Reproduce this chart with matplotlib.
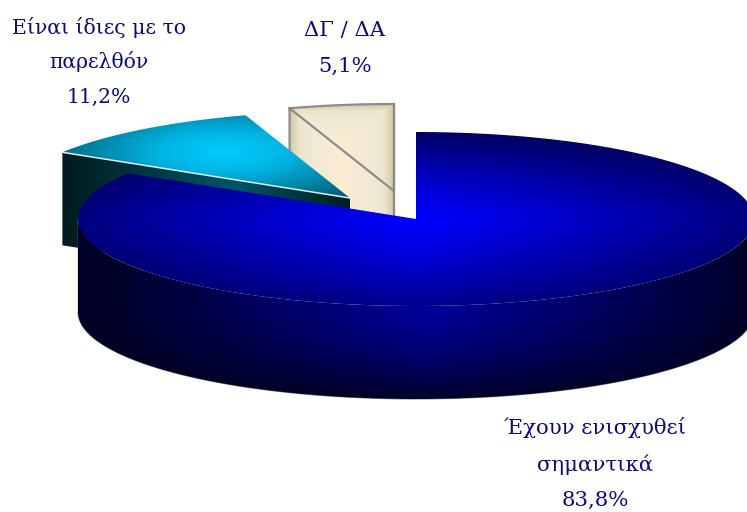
import numpy as np
import matplotlib
matplotlib.use("Agg")
import matplotlib.pyplot as plt
from matplotlib.patches import Polygon

categories = ["Έχουν ενισχυθεί\nσημαντικά", "Είναι ίδιες με το\nπαρελθόν", "ΔΓ / ΔΑ"]
values = [83.8, 11.2, 5.1]
value_labels = ["83,8%", "11,2%", "5,1%"]

W, H = 747, 512
CX, CY, RX, RY, DEPTH = 416, 219, 338, 87, 93
OFFSETS = [(0, 0), (-66, -21), (-22, -28)]
TEXT = "#0b0b80"
EDGE = "#8c8c8c"

fig = plt.figure(figsize=(W / 100, H / 100), dpi=100)
ax = fig.add_axes([0, 0, 1, 1])
ax.set_xlim(0, W)
ax.set_ylim(H, 0)
ax.axis("off")

yy, xx = np.mgrid[0:H, 0:W] + 0.5


def rim(a0, a1, off=(0, 0), n=160):
    t = np.radians(np.linspace(a0, a1, n))
    return np.c_[CX + off[0] + RX * np.sin(t), CY + off[1] - RY * np.cos(t)]


def lerp(stops, s):
    s = np.clip(s, 0, 1)
    pos = [p for p, _ in stops]
    return np.dstack([np.interp(s, pos, [c[i] for _, c in stops]) for i in range(3)]) / 255


def blues(b):
    return np.dstack([np.zeros_like(b), np.zeros_like(b), np.clip(b, 0, 255) / 255])


def fill(pts, rgb, z):
    clip = Polygon(pts, closed=True, transform=ax.transData, fc="none", ec="none")
    ax.add_patch(clip)
    im = ax.imshow(rgb, extent=(0, W, H, 0), aspect="auto", zorder=z, interpolation="bilinear")
    im.set_clip_path(clip)


sweeps = np.array(values) / 100 * 360
a1 = np.minimum(np.cumsum(sweeps), 360)
a0 = np.r_[0, a1[:-1]]

# small slice: inner wall seen as cream box with grey outline
off = OFFSETS[2]
r = rim(a0[2], a1[2], off)
apex = np.array([CX + off[0], CY + off[1]])
box = np.vstack([r, apex + [0, DEPTH], r[0] + [0, DEPTH]])
d = np.minimum.reduce([np.abs(xx - r[0, 0]), np.abs(xx - r[-1, 0]), np.abs(yy - r[-1, 1]) * 1.3])
fill(box, lerp([(0, (212, 198, 162)), (0.2, (236, 228, 205)), (0.45, (241, 233, 212)),
                (1, (251, 236, 212))], d / 48), 1)
ax.plot(*np.vstack([r, apex, r[0], r[0] + [0, DEPTH], apex + [0, DEPTH], apex, r[-1]]).T,
        color=EDGE, lw=1.6, zorder=1.5, solid_joinstyle="round")

# middle slice
off = OFFSETS[1]
r = rim(a0[1], a1[1], off)
apex = np.array([CX + off[0], CY + off[1]])
wall = np.array([r[0], apex, apex + [0, DEPTH], r[0] + [0, DEPTH]])
s = np.where(xx < 235, np.abs(xx - 235) / 170, np.abs(xx - 235) / 115)
fill(wall, lerp([(0, (0, 85, 105)), (1, (0, 28, 30))], s), 2)
top = np.vstack([r, apex])
s = np.hypot((xx - 225) / 190, (yy - 152) / 60)
fill(top, lerp([(0, (0, 205, 255)), (0.35, (0, 180, 225)), (1, (0, 88, 112))], s), 3)
ax.plot(*np.array([r[0], apex]).T, color="#d8eef2", lw=1.1, zorder=3.5)

# main slice
r = rim(a0[0], a1[0])
apex = np.array([CX, CY])
front = rim(90, 270)
wall = np.vstack([front, front[::-1] + [0, DEPTH]])
fx = 1 - 0.8 * np.clip(np.abs(xx - 430) / 320, 0, 1)
fy = 1 - 0.78 * np.clip((yy - 300) / 98, 0, 1) ** 1.5
fill(wall, blues(150 * fx * fy + 10), 4)
ax.plot(*(front + [0, DEPTH]).T, color=EDGE, lw=0.8, zorder=3.9)
ax.plot([front[-1, 0]] * 2, [front[-1, 1], front[-1, 1] + DEPTH], color=EDGE, lw=1.0, zorder=3.9)
top = np.vstack([r, apex])
dx = np.abs(xx - CX) / RX
dy = (yy - CY) / RY
fy = np.where(dy < 0, 1 - 0.6 * np.abs(dy) ** 1.3, 1 - 0.45 * np.abs(dy) ** 1.3)
fill(top, blues(255 * (1 - 0.5 * dx ** 1.1) * fy), 5)

# labels
style = dict(color=TEXT, ha="center", va="center", family="DejaVu Serif", zorder=6)
label_x = [595, 99, 345]
label_y = [[427, 465, 500], [27, 61, 97], [30, 66]]
label_size = [15.3, 14.7, 15.2]
for c, v, x, ys, fs in zip(categories, value_labels, label_x, label_y, label_size):
    for line, y in zip(c.split("\n") + [v], ys):
        ax.text(x, y, line, fontsize=fs, **style)

fig.savefig("out.png", dpi=100)
